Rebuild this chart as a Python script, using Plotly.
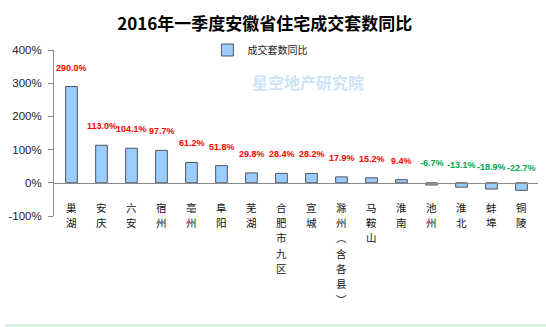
import plotly.graph_objects as go

cities = ["巢湖", "安庆", "六安", "宿州", "亳州", "阜阳", "芜湖", "合肥市九区", "宣城",
          "滁州︵含各县︶", "马鞍山", "淮南", "池州", "淮北", "蚌埠", "铜陵"]
values = [290.0, 113.0, 104.1, 97.7, 61.2, 51.8, 29.8, 28.4, 28.2, 17.9, 15.2, 9.4,
          -6.7, -13.1, -18.9, -22.7]
y_ticks = [-100, 0, 100, 200, 300, 400]
y_tick_text = ["-100%", "0%", "100%", "200%", "300%", "400%"]

title = "2016年一季度安徽省住宅成交套数同比"
series_name = "成交套数同比"
watermark = "星空地产研究院"

FONT = "Noto Sans CJK SC"
NARROW = "Liberation Sans Narrow, Arial Narrow, Liberation Sans, sans-serif"

fig = go.Figure()
fig.add_trace(go.Bar(
    x=cities, y=values, name=series_name,
    marker=dict(color="#99CCFF", line=dict(color="#555555", width=1)),
    width=0.39, showlegend=True,
))

# data labels
for c, v in zip(cities, values):
    fig.add_annotation(
        x=c, y=v, xref="x", yref="y",
        text=f"{v:.1f}%", showarrow=False,
        yshift=19 if v >= 0 else 22,
        font=dict(family=NARROW, size=9, color="#FF0000" if v >= 0 else "#00A651",
                  weight="bold"),
    )

# vertical category labels (one character per row, stacked under the zero line)
PITCH = 15.3
for c in cities:
    for k, ch in enumerate(c):
        fig.add_annotation(
            x=c, y=0, xref="x", yref="y",
            text=ch, showarrow=False, yanchor="top", xanchor="center",
            yshift=-15 - k * PITCH,
            font=dict(family=FONT, size=10.5, color="#111"),
        )

# watermark
fig.add_annotation(
    x=0.525, y=0.81, xref="paper", yref="paper", xanchor="center", yanchor="middle",
    text=watermark, showarrow=False,
    font=dict(family=FONT, size=16, color="rgba(150,200,240,0.5)", weight="bold"),
)

fig.update_layout(
    width=546, height=327,
    margin=dict(l=42, r=8, t=50, b=111),
    paper_bgcolor="white", plot_bgcolor="white",
    title=dict(text=title, x=0.485, xanchor="center", y=0.925, yanchor="middle",
               font=dict(family=FONT, size=17, color="black", weight="bold")),
    legend=dict(x=0.317, y=1.0, xanchor="left", yanchor="middle",
                orientation="h", bgcolor="rgba(0,0,0,0)",
                font=dict(family=FONT, size=10, color="#222"),
                itemwidth=30),
    showlegend=True,
)

fig.update_yaxes(
    range=[-100, 400], tickvals=y_ticks, ticktext=y_tick_text,
    showgrid=False, zeroline=False,
    showline=True, linecolor="#8a8a8a", linewidth=1,
    ticks="outside", ticklen=5, tickcolor="#8a8a8a", ticklabelstandoff=4,
    tickfont=dict(family=NARROW, size=11.5, color="#222"),
    domain=[0, 1],
)

fig.update_xaxes(
    type="category",
    anchor="free", position=0.2,
    showgrid=False, zeroline=False,
    showline=True, linecolor="#8a8a8a", linewidth=1,
    ticks="", showticklabels=False,
)

fig.add_shape(type="line", xref="paper", yref="paper", x0=-0.1, x1=1.1, y0=-0.66, y1=-0.66,
              line=dict(color="#c8efd0", width=2))

fig.write_html("out.html")
